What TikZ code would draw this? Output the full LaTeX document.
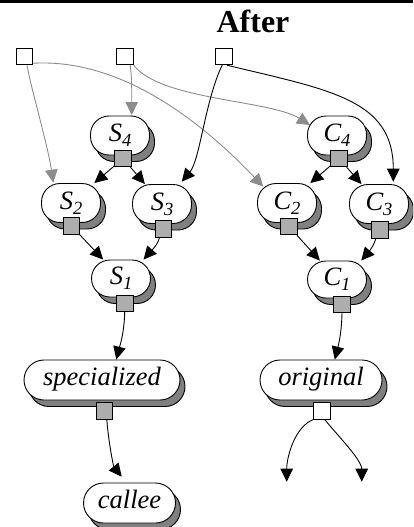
\documentclass[tikz,border=0pt]{standalone}
\usepackage{fontspec}
\setmainfont{Liberation Serif}
\usetikzlibrary{arrows.meta,shadows,calc,shapes.misc}
\definecolor{shgray}{gray}{0.5}
\definecolor{sqgray}{gray}{0.68}
\definecolor{edgegray}{gray}{0.55}
\newcommand\nsub[2]{#1\raisebox{-0.2em}{\fontsize{18.5}{18.5}\selectfont #2}}
\begin{document}
\begin{tikzpicture}[x=1pt,y=-1pt,
  nodebox/.style={draw=black, line width=0.9pt, fill=white, inner sep=0pt,
    font=\fontsize{26.5}{26.5}\selectfont\itshape, text height=16pt, text depth=4pt,
    drop shadow={shadow xshift=5pt, shadow yshift=-6.5pt, fill=shgray, draw=black, opacity=1}},
  smallbox/.style={nodebox, rectangle, rounded corners=18.5pt, minimum width=59pt, minimum height=39pt},
  widebox/.style={nodebox, rounded rectangle, minimum height=40pt, text height=15pt, text depth=5pt},
  port/.style={draw=black, line width=0.9pt, fill=sqgray, minimum size=16.5pt, inner sep=0pt, rectangle},
  inport/.style={port, fill=white},
  dep/.style={line width=0.9pt, draw=black, -{Triangle[length=13pt,width=12.5pt]}},
  gdep/.style={dep, draw=edgegray}
]
\useasboundingbox (0,0) rectangle (413,527);
\clip (0,0) rectangle (413,527);
\fill[black] (0,0) rectangle (413,2.7);

\node[anchor=base, font=\fontsize{32}{32}\selectfont\bfseries] (title) at (253,33) {After};

% top ports
\node[inport] (t1) at (24.3,56.7) {};
\node[inport] (t2) at (125,56.5) {};
\node[inport] (t3) at (223.7,56.5) {};

% specialized side
\node[smallbox] (S4) at (120,135.5) {\nsub{S}{4}};
\node[port] (s4p) at (123,158.5) {};
\node[smallbox] (S2) at (71,203) {\nsub{S}{2}};
\node[port] (s2p) at (71.5,226) {};
\node[smallbox] (S3) at (162,204) {\nsub{S}{3}};
\node[port] (s3p) at (163.5,229) {};
\node[smallbox, minimum height=37pt] (S1) at (121,278.5) {\nsub{S}{1}};
\node[port] (s1p) at (124.7,303.5) {};

% original side
\node[smallbox] (C4) at (337,135.5) {\nsub{C}{4}};
\node[port] (c4p) at (339,158.5) {};
\node[smallbox] (C2) at (287,203) {\nsub{C}{2}};
\node[port] (c2p) at (289,226.5) {};
\node[smallbox] (C3) at (379,204) {\nsub{C}{3}};
\node[port] (c3p) at (379.7,229.7) {};
\node[smallbox, minimum height=37pt] (C1) at (337,279.5) {\nsub{C}{1}};
\node[port] (c1p) at (342,304.5) {};

\node[widebox, minimum width=156pt] (specialized) at (102,380) {specialized};
\node[port] (spp) at (104.3,411) {};
\node[widebox, minimum width=122pt] (original) at (321,380) {original};
\node[inport] (opp) at (321.7,411) {};
\node[widebox, minimum width=92pt] (callee) at (129.5,503) {callee};

\coordinate (o1) at (286.7,481.7);
\coordinate (o2) at (361.7,481.7);

% edges from top ports
\draw[gdep] (t1.-72) .. controls +(3,20) and +(-6,-40) .. ($(S2)+(-17.7,-20.3)$);
\draw[gdep] (t1.-37) .. controls +(87,-5) and +(-63.3,-66.7) .. ($(C2)+(-23.7,-16.3)$);
\draw[gdep] (t2.-59) .. controls +(2,15) and +(0,-15) .. ($(S4)+(11.7,-20.5)$);
\draw[gdep] (t2.south east) .. controls +(27,35) and +(-40,-25) .. ($(C4)+(-27,-10.5)$);
\draw[dep] (t3.-100) .. controls +(-17,35) and +(18.3,-21.7) .. ($(S3)+(19.7,-22.3)$);
\draw[dep] (t3.-70) .. controls +(104,25) and +(0,-82) .. ($(C3)+(14.3,-22.3)$);

% internal edges
\draw[dep] (s4p) -- (S2);
\draw[dep] (s4p) -- (S3);
\draw[dep] (s2p) -- (S1);
\draw[dep] (s3p.-115) .. controls +(-2,8) and +(6,-7) .. (S1.40);
\draw[dep] (c4p) -- (C2);
\draw[dep] (c4p) -- (C3);
\draw[dep] (c2p) -- (C1);
\draw[dep] (c3p.-114) .. controls +(-2,8) and +(6,-7) .. (C1.38);
\draw[dep] (s1p.south) .. controls +(-0.5,22) and +(3,-12) .. (specialized.55);
\draw[dep] (c1p.south) .. controls +(-0.5,22) and +(3,-12) .. (original.56);
\draw[dep] (spp.-74) .. controls +(2,25) and +(-8,-10) .. ($(callee)+(-7.8,-26.3)$);
\draw[dep] (opp.south west) .. controls +(-18,7) and +(0,-25) .. (o1);
\draw[dep] (opp.-70) .. controls +(12,15) and +(0,-22) .. (o2);
\end{tikzpicture}
\end{document}
